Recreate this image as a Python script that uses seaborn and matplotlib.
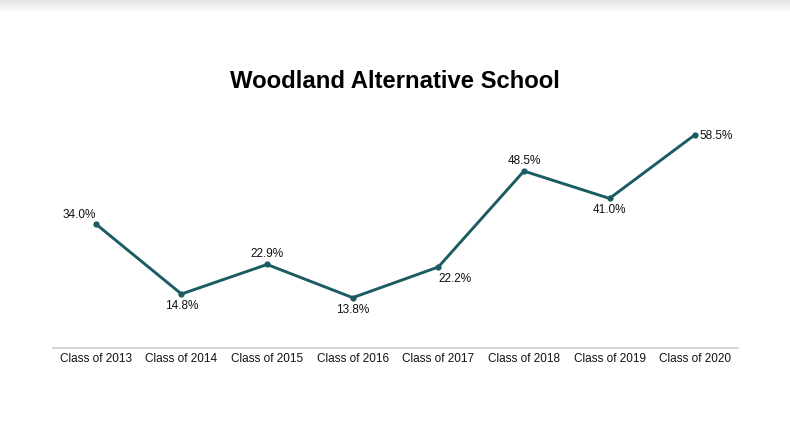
import numpy as np
import pandas as pd
import matplotlib
matplotlib.use("Agg")
import matplotlib.pyplot as plt
import seaborn as sns

categories = ["Class of 2013", "Class of 2014", "Class of 2015", "Class of 2016",
              "Class of 2017", "Class of 2018", "Class of 2019", "Class of 2020"]
values = [34.0, 14.8, 22.9, 13.8, 22.2, 48.5, 41.0, 58.5]
value_labels = ["34.0%", "14.8%", "22.9%", "13.8%", "22.2%", "48.5%", "41.0%", "58.5%"]
title = "Woodland Alternative School"

# label offsets in pixels (dx, dy) and alignment
label_pos = [(-17, 9, "center"), (0, -12, "center"), (0, 10, "center"), (0, -12, "center"),
             (17, -12, "center"), (0, 10, "center"), (0, -12, "center"), (4, -1, "left")]

sns.set_theme(style="white")
plt.rcParams["font.family"] = ["Liberation Sans", "DejaVu Sans"]

df = pd.DataFrame({"cat": categories, "val": values})

fig = plt.figure(figsize=(7.9, 4.3), dpi=100)
fig.patch.set_facecolor("white")

# subtle gray gradient at the top
gax = fig.add_axes([0, 1 - 12 / 430, 1, 12 / 430])
grad = np.linspace(0, 1, 50).reshape(-1, 1)
gax.imshow(grad, aspect="auto", cmap=matplotlib.colors.LinearSegmentedColormap.from_list(
    "g", ["#e4e4e4", "#ffffff"]), extent=[0, 1, 0, 1], origin="upper")
gax.axis("off")

ax = fig.add_axes([53 / 790, 1 - 348 / 430, (738 - 53) / 790, (348 - 120) / 430])
color = "#1b5c62"
sns.lineplot(data=df, x="cat", y="val", ax=ax, color=color, linewidth=2.1,
             marker="o", markersize=4.5, markeredgewidth=0, sort=False)

for i, (v, lab) in enumerate(zip(values, value_labels)):
    dx, dy, ha = label_pos[i]
    ax.annotate(lab, (i, v), xytext=(dx, dy), textcoords="offset pixels",
                ha=ha, va="center", fontsize=8.5, color="#111111")

ax.set_xlim(-0.5, len(categories) - 0.5)
ax.set_ylim(0, 62.5)
ax.set_xlabel("")
ax.set_ylabel("")
ax.set_yticks([])
for s in ["top", "right", "left"]:
    ax.spines[s].set_visible(False)
ax.spines["bottom"].set_color("#cccccc")
ax.spines["bottom"].set_linewidth(1.2)
ax.tick_params(axis="x", length=0, pad=3.5, labelsize=8.5, labelcolor="#111111")

fig.text(395 / 790, 1 - 82 / 430, title, ha="center", va="center",
         fontsize=17.2, fontweight="bold", color="#000000")

fig.savefig("out.png", dpi=100)
